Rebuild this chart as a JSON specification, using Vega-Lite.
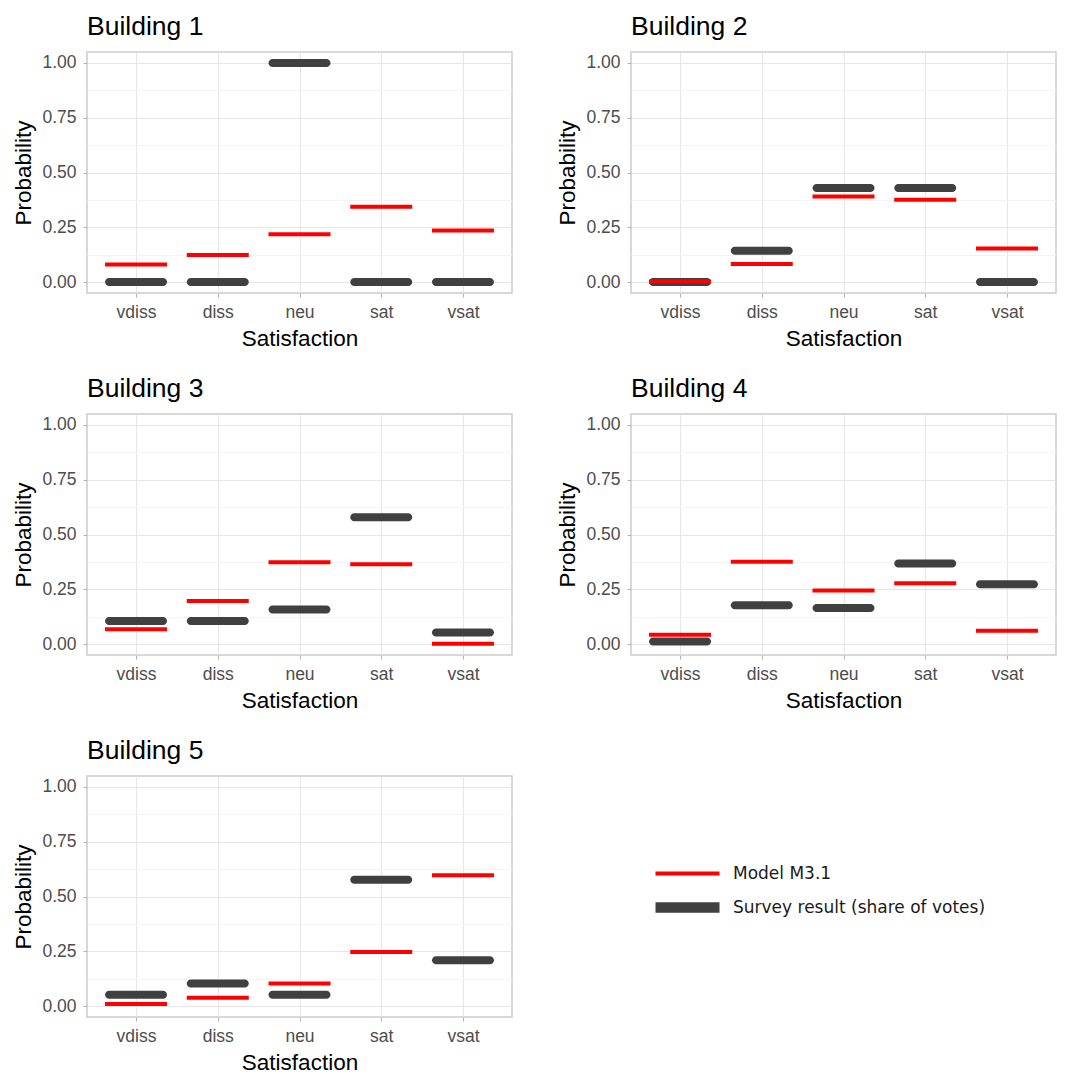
{
  "$schema": "https://vega.github.io/schema/vega-lite/v6.json",
  "background": "white",
  "padding": {"left": 12, "top": 12, "right": 5, "bottom": 5},
  "data": {"values": [
    {"building": "Building 1", "sat": "vdiss", "type": "Survey result (share of votes)", "p": 0},
    {"building": "Building 1", "sat": "diss", "type": "Survey result (share of votes)", "p": 0},
    {"building": "Building 1", "sat": "neu", "type": "Survey result (share of votes)", "p": 1},
    {"building": "Building 1", "sat": "sat", "type": "Survey result (share of votes)", "p": 0},
    {"building": "Building 1", "sat": "vsat", "type": "Survey result (share of votes)", "p": 0},
    {"building": "Building 1", "sat": "vdiss", "type": "Model M3.1", "p": 0.080},
    {"building": "Building 1", "sat": "diss", "type": "Model M3.1", "p": 0.124},
    {"building": "Building 1", "sat": "neu", "type": "Model M3.1", "p": 0.218},
    {"building": "Building 1", "sat": "sat", "type": "Model M3.1", "p": 0.344},
    {"building": "Building 1", "sat": "vsat", "type": "Model M3.1", "p": 0.235},
    {"building": "Building 2", "sat": "vdiss", "type": "Survey result (share of votes)", "p": 0},
    {"building": "Building 2", "sat": "diss", "type": "Survey result (share of votes)", "p": 0.143},
    {"building": "Building 2", "sat": "neu", "type": "Survey result (share of votes)", "p": 0.429},
    {"building": "Building 2", "sat": "sat", "type": "Survey result (share of votes)", "p": 0.429},
    {"building": "Building 2", "sat": "vsat", "type": "Survey result (share of votes)", "p": 0},
    {"building": "Building 2", "sat": "vdiss", "type": "Model M3.1", "p": 0.002},
    {"building": "Building 2", "sat": "diss", "type": "Model M3.1", "p": 0.082},
    {"building": "Building 2", "sat": "neu", "type": "Model M3.1", "p": 0.391},
    {"building": "Building 2", "sat": "sat", "type": "Model M3.1", "p": 0.376},
    {"building": "Building 2", "sat": "vsat", "type": "Model M3.1", "p": 0.153},
    {"building": "Building 3", "sat": "vdiss", "type": "Survey result (share of votes)", "p": 0.105},
    {"building": "Building 3", "sat": "diss", "type": "Survey result (share of votes)", "p": 0.105},
    {"building": "Building 3", "sat": "neu", "type": "Survey result (share of votes)", "p": 0.158},
    {"building": "Building 3", "sat": "sat", "type": "Survey result (share of votes)", "p": 0.579},
    {"building": "Building 3", "sat": "vsat", "type": "Survey result (share of votes)", "p": 0.053},
    {"building": "Building 3", "sat": "vdiss", "type": "Model M3.1", "p": 0.068},
    {"building": "Building 3", "sat": "diss", "type": "Model M3.1", "p": 0.197},
    {"building": "Building 3", "sat": "neu", "type": "Model M3.1", "p": 0.373},
    {"building": "Building 3", "sat": "sat", "type": "Model M3.1", "p": 0.364},
    {"building": "Building 3", "sat": "vsat", "type": "Model M3.1", "p": 0.001},
    {"building": "Building 4", "sat": "vdiss", "type": "Survey result (share of votes)", "p": 0.012},
    {"building": "Building 4", "sat": "diss", "type": "Survey result (share of votes)", "p": 0.177},
    {"building": "Building 4", "sat": "neu", "type": "Survey result (share of votes)", "p": 0.164},
    {"building": "Building 4", "sat": "sat", "type": "Survey result (share of votes)", "p": 0.368},
    {"building": "Building 4", "sat": "vsat", "type": "Survey result (share of votes)", "p": 0.273},
    {"building": "Building 4", "sat": "vdiss", "type": "Model M3.1", "p": 0.042},
    {"building": "Building 4", "sat": "diss", "type": "Model M3.1", "p": 0.376},
    {"building": "Building 4", "sat": "neu", "type": "Model M3.1", "p": 0.244},
    {"building": "Building 4", "sat": "sat", "type": "Model M3.1", "p": 0.277},
    {"building": "Building 4", "sat": "vsat", "type": "Model M3.1", "p": 0.061},
    {"building": "Building 5", "sat": "vdiss", "type": "Survey result (share of votes)", "p": 0.052},
    {"building": "Building 5", "sat": "diss", "type": "Survey result (share of votes)", "p": 0.103},
    {"building": "Building 5", "sat": "neu", "type": "Survey result (share of votes)", "p": 0.052},
    {"building": "Building 5", "sat": "sat", "type": "Survey result (share of votes)", "p": 0.576},
    {"building": "Building 5", "sat": "vsat", "type": "Survey result (share of votes)", "p": 0.209},
    {"building": "Building 5", "sat": "vdiss", "type": "Model M3.1", "p": 0.009},
    {"building": "Building 5", "sat": "diss", "type": "Model M3.1", "p": 0.038},
    {"building": "Building 5", "sat": "neu", "type": "Model M3.1", "p": 0.103},
    {"building": "Building 5", "sat": "sat", "type": "Model M3.1", "p": 0.247},
    {"building": "Building 5", "sat": "vsat", "type": "Model M3.1", "p": 0.597}
  ]},
  "facet": {
    "field": "building", "type": "nominal",
    "header": {"title": null, "labelAnchor": "start", "labelFontSize": 26.5, "labelFont": "Liberation Sans", "labelColor": "black", "labelPadding": 12}
  },
  "columns": 2,
  "spacing": {"column": 43, "row": 23},
  "resolve": {"axis": {"x": "independent", "y": "independent"}},
  "spec": {
    "width": 425,
    "height": 241,
    "encoding": {
      "x": {
        "field": "sat", "type": "nominal",
        "sort": ["vdiss", "diss", "neu", "sat", "vsat"],
        "scale": {"type": "point", "padding": 0.6},
        "axis": {
          "title": "Satisfaction", "labelAngle": 0, "grid": true, "gridColor": "#e6e6e6", "gridWidth": 1,
          "domain": false, "tickColor": "#b3b3b3", "tickSize": 4, "labelPadding": 6,
          "labelFont": "Liberation Sans", "labelFontSize": 17.5, "labelColor": "#4d4d4d",
          "titleFont": "Liberation Sans", "titleFontSize": 22.5, "titleFontWeight": "normal", "titleColor": "black", "titlePadding": 7
        }
      },
      "y": {
        "field": "p", "type": "quantitative",
        "scale": {"domain": [-0.05, 1.05], "nice": false, "zero": false},
        "axis": {
          "title": "Probability",
          "values": [0, 0.125, 0.25, 0.375, 0.5, 0.625, 0.75, 0.875, 1],
          "labelExpr": "(datum.value * 4) % 1 == 0 ? format(datum.value, '.2f') : ''",
          "gridColor": {"condition": {"test": "(datum.value * 4) % 1 != 0", "value": "#f3f3f3"}, "value": "#e6e6e6"},
          "tickOpacity": {"condition": {"test": "(datum.value * 4) % 1 != 0", "value": 0}, "value": 1},
          "domain": false, "tickColor": "#b3b3b3", "tickSize": 4, "labelPadding": 7,
          "labelFont": "Liberation Sans", "labelFontSize": 17.5, "labelColor": "#4d4d4d",
          "titleFont": "Liberation Sans", "titleFontSize": 22.5, "titleFontWeight": "normal", "titleColor": "black", "titlePadding": 6
        }
      },
      "color": {
        "field": "type", "type": "nominal",
        "scale": {"domain": ["Model M3.1", "Survey result (share of votes)"], "range": ["#ff0000", "#404040"]},
        "legend": {
          "title": null, "orient": "none", "legendX": 564, "legendY": 813, "padding": 0,
          "symbolType": {"expr": "datum.value === 'Model M3.1' ? 'M-1,-0.5H15V0.5H-1Z' : 'M-1,-1.3H15V1.3H-1Z'"},
          "symbolSize": 64, "symbolStrokeWidth": 0,
          "labelOffset": 65, "rowPadding": 16, "labelLimit": 400,
          "labelFont": "DejaVu Sans", "labelFontSize": 17, "labelColor": "#1a1a1a",
          "encode": {"symbols": {"update": {
            "fill": {"signal": "datum.value === 'Model M3.1' ? '#ff0000' : '#404040'"},
            "opacity": {"value": 1},
            "fillOpacity": {"value": 1}
          }}}
        }
      }
    },
    "layer": [
      {"transform": [{"filter": "datum.type != 'Model M3.1'"}], "mark": {"type": "tick", "thickness": 8, "size": 62, "cornerRadius": 4, "opacity": 1}},
      {"transform": [{"filter": "datum.type == 'Model M3.1'"}], "mark": {"type": "tick", "thickness": 4, "size": 62, "opacity": 1}}
    ]
  },
  "config": {
    "view": {"stroke": "#cccccc", "strokeWidth": 1.5}
  }
}
